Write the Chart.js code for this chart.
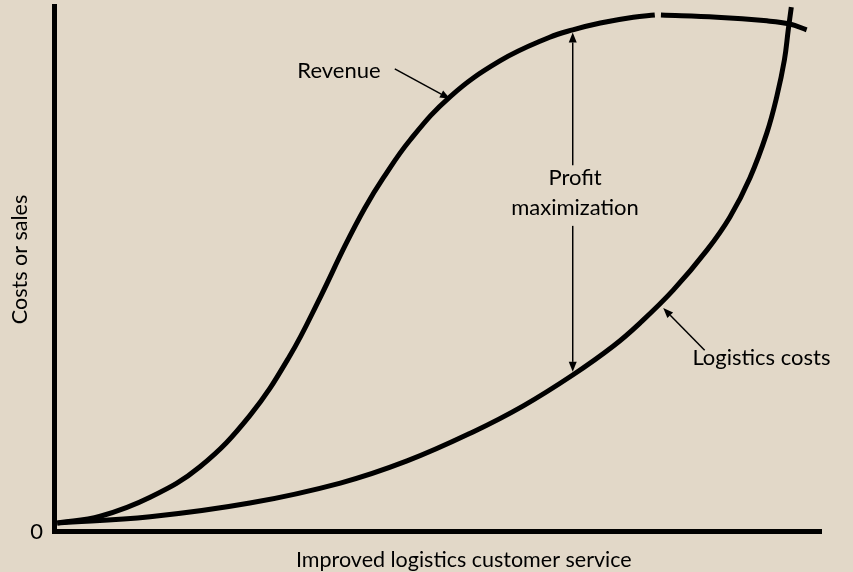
<!DOCTYPE html>
<html>
<head>
<meta charset="utf-8">
<title>Revenue and logistics costs</title>
<script src="https://cdn.jsdelivr.net/npm/chart.js@4.4.0/dist/chart.umd.min.js"></script>
<style>
  html, body { margin: 0; padding: 0; background: #e2d8c8; }
  #wrap { width: 853px; height: 572px; }
</style>
</head>
<body>
<div id="wrap"><canvas id="serviceChart" width="853" height="572"></canvas></div>
<script>
// Service level (x) and money (y), both on a 0-100 scale
const revenueX = [0.3, 5.9, 12.4, 18.9, 25.4, 30.6, 34.6, 37.8, 40.4, 42.8, 46.3, 51.5, 58.0, 64.5, 67.5, 71.1, 75.4, 78.2, 78.6, 79.0, 86.3, 92.8, 95.8, 98.0];
const revenueY = [1.5, 2.8, 6.4, 12.2, 21.9, 33.2, 44.4, 54.1, 61.3, 67.0, 74.2, 82.4, 89.2, 93.7, 95.1, 96.4, 97.5, 97.9, null, 97.9, 97.5, 96.8, 96.2, 95.1];
const costsX = [0.3, 12.4, 25.4, 37.2, 45.9, 54.5, 61.0, 67.5, 72.8, 76.3, 80.6, 85.0, 88.0, 90.6, 92.8, 94.1, 95.1, 95.6, 96.0];
const costsY = [1.5, 2.7, 5.3, 9.1, 13.3, 18.8, 23.7, 29.6, 35.1, 39.5, 45.7, 53.3, 59.6, 67.0, 75.5, 82.4, 89.4, 95.1, 99.4];
const yTickLabels = ['0'];
const xTitle = 'Improved logistics customer service';
const yTitle = 'Costs or sales';

// Annotations, in the same data units
const labels = [
    { text: 'Revenue', x: 31.6, y: 87.3, align: 'left' },
    { text: 'Profit', x: 67.8, y: 67.0, align: 'center' },
    { text: 'maximization', x: 67.8, y: 61.3, align: 'center' },
    { text: 'Logistics costs', x: 83.1, y: 32.8, align: 'left' }
];
const arrows = [
    { from: [44.3, 87.7], to: [51.5, 82.0] },
    { from: [67.5, 69.4], to: [67.5, 94.6] },
    { from: [67.5, 57.9], to: [67.5, 30.2] },
    { from: [84.7, 34.3], to: [79.3, 42.3] }
];

const FONT = '22px Lato, "Open Sans", sans-serif';
const TITLE_FONT = '21.5px Lato, "Open Sans", sans-serif';

function toPoints(xs, ys) {
    return xs.map((x, i) => ({ x: x, y: ys[i] }));
}

// Background, axes, titles and annotations
const decorPlugin = {
    id: 'decor',
    beforeDraw(chart) {
        const ctx = chart.ctx;
        ctx.save();
        ctx.fillStyle = '#e2d8c8';
        ctx.fillRect(0, 0, chart.width, chart.height);
        ctx.restore();
    },
    afterDatasetsDraw(chart) {
        const ctx = chart.ctx;
        const xs = chart.scales.x;
        const ys = chart.scales.y;
        const left = xs.getPixelForValue(0);
        const bottom = ys.getPixelForValue(0);
        const area = chart.chartArea;

        ctx.save();
        ctx.fillStyle = '#000';
        // axis lines
        ctx.fillRect(left - 3, area.top, 5, bottom - area.top + 3);
        ctx.fillRect(left - 3, bottom - 2, area.right - left + 3, 5);

        ctx.font = FONT;
        ctx.textBaseline = 'middle';
        // y tick
        ctx.textAlign = 'right';
        yTickLabels.forEach(t => ctx.fillText(t, left - 12, bottom + 1));
        // x title
        ctx.font = TITLE_FONT;
        ctx.textAlign = 'center';
        ctx.fillText(xTitle, xs.getPixelForValue(53.3), bottom + 29);
        // y title
        ctx.save();
        ctx.translate(20, (area.top + bottom) / 2 - 8);
        ctx.rotate(-Math.PI / 2);
        ctx.fillText(yTitle, 0, 0);
        ctx.restore();

        // labels
        ctx.font = FONT;
        labels.forEach(l => {
            ctx.textAlign = l.align;
            ctx.fillText(l.text, xs.getPixelForValue(l.x), ys.getPixelForValue(l.y));
        });

        // arrows
        ctx.lineWidth = 1.5;
        ctx.strokeStyle = '#000';
        arrows.forEach(a => {
            const x1 = xs.getPixelForValue(a.from[0]);
            const y1 = ys.getPixelForValue(a.from[1]);
            const x2 = xs.getPixelForValue(a.to[0]);
            const y2 = ys.getPixelForValue(a.to[1]);
            const ang = Math.atan2(y2 - y1, x2 - x1);
            const len = 10, half = 4;
            const bx = x2 - len * Math.cos(ang);
            const by = y2 - len * Math.sin(ang);
            ctx.beginPath();
            ctx.moveTo(x1, y1);
            ctx.lineTo(bx, by);
            ctx.stroke();
            ctx.beginPath();
            ctx.moveTo(x2, y2);
            ctx.lineTo(bx + half * Math.sin(ang), by - half * Math.cos(ang));
            ctx.lineTo(bx - half * Math.sin(ang), by + half * Math.cos(ang));
            ctx.closePath();
            ctx.fill();
        });
        ctx.restore();
    }
};

function createServiceChart() {
    const ctx = document.getElementById('serviceChart').getContext('2d');
    new Chart(ctx, {
        type: 'scatter',
        data: {
            datasets: [
                {
                    label: 'Revenue',
                    data: toPoints(revenueX, revenueY),
                    showLine: true,
                    borderColor: '#000',
                    borderWidth: 5,
                    pointRadius: 0,
                    tension: 0.4,
                    spanGaps: false,
                    borderCapStyle: 'butt'
                },
                {
                    label: 'Logistics costs',
                    data: toPoints(costsX, costsY),
                    showLine: true,
                    borderColor: '#000',
                    borderWidth: 5,
                    pointRadius: 0,
                    tension: 0.4,
                    borderCapStyle: 'butt'
                }
            ]
        },
        options: {
            responsive: false,
            animation: false,
            clip: false,
            layout: { padding: { left: 55, right: 31, top: 4, bottom: 41 } },
            scales: {
                x: { type: 'linear', min: 0, max: 100, display: false },
                y: { type: 'linear', min: 0, max: 100, display: false }
            },
            plugins: {
                legend: { display: false },
                tooltip: { enabled: false }
            }
        },
        plugins: [decorPlugin]
    });
}

window.onload = function() {
    createServiceChart();
};
</script>
</body>
</html>
